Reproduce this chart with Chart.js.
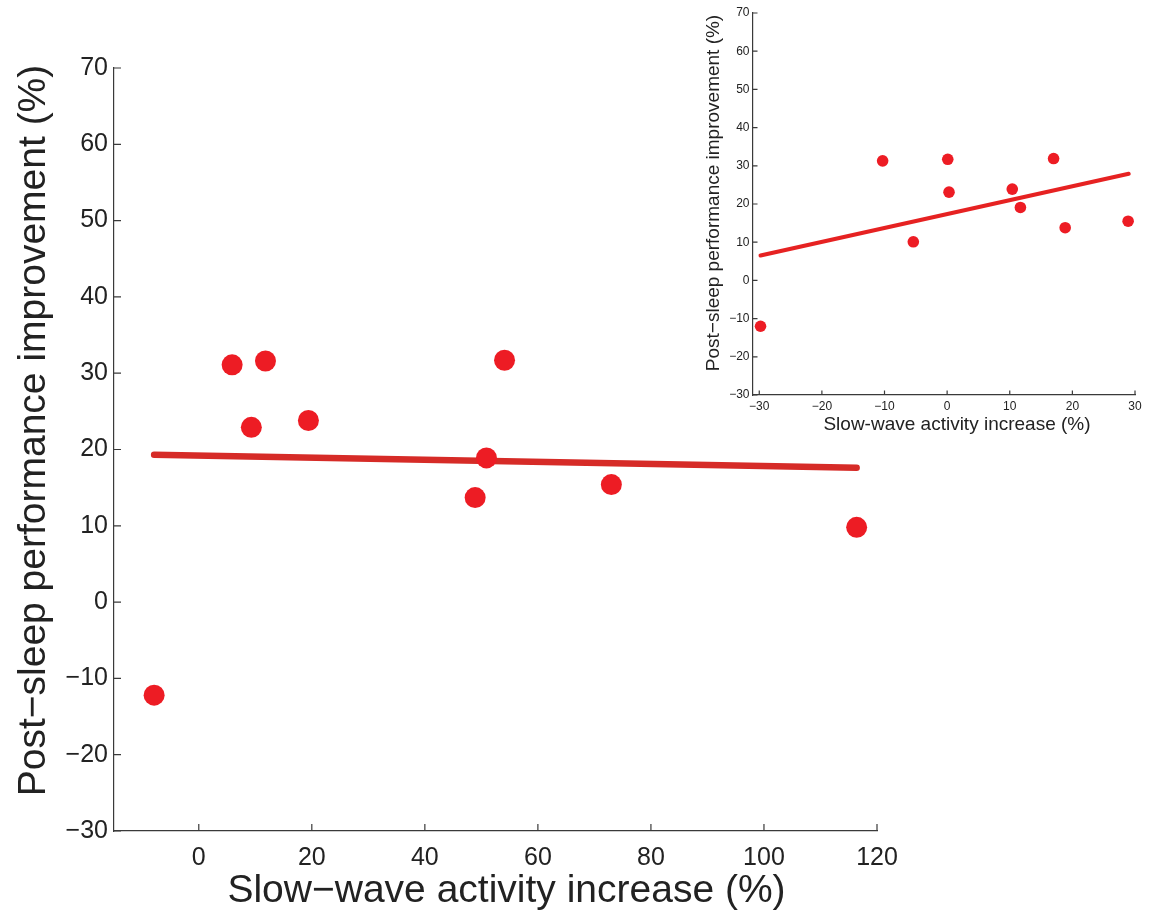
<!DOCTYPE html>
<html>
<head>
<meta charset="utf-8">
<script src="https://cdn.jsdelivr.net/npm/chart.js@4.4.1/dist/chart.umd.min.js"></script>
<style>
  html, body { margin: 0; padding: 0; background: #ffffff; }
  #wrap { position: relative; width: 1161px; height: 915px; overflow: hidden; background: #fff; }
  canvas { position: absolute; }
  #mainChart { left: 0; top: 0; }
  #insetChart { left: 690px; top: 0; }
</style>
</head>
<body>
<div id="wrap">
  <canvas id="mainChart" width="1161" height="915"></canvas>
  <canvas id="insetChart" width="471" height="440"></canvas>
</div>
<script>
// ---- Main panel data ----
const mainSwaIncrease = [-7.9, 5.9, 11.8, 9.3, 19.4, 54.1, 50.9, 48.9, 73.0, 116.4];
const mainImprovement = [-12.2, 31.1, 31.6, 22.9, 23.8, 31.7, 18.9, 13.7, 15.4, 9.8];
const mainFitX = [-7.9, 116.4];
const mainFitY = [19.3, 17.6];
const mainXTicks = [0, 20, 40, 60, 80, 100, 120];
const mainYTicks = [-30, -20, -10, 0, 10, 20, 30, 40, 50, 60, 70];

// ---- Inset panel data ----
const insetSwaIncrease = [-29.8, -10.3, -5.4, 0.1, 0.3, 10.4, 11.7, 17.0, 18.85, 28.9];
const insetImprovement = [-12.0, 31.3, 10.1, 31.7, 23.1, 23.9, 19.1, 31.9, 13.8, 15.5];
const insetFitX = [-29.8, 29.0];
const insetFitY = [6.5, 27.9];
const insetXTicks = [-30, -20, -10, 0, 10, 20, 30];
const insetYTicks = [-30, -20, -10, 0, 10, 20, 30, 40, 50, 60, 70];

const FONT = "'Liberation Sans', Arial, Helvetica, sans-serif";
const minus = v => String(v).replace('-', '\u2212');
const toPts = (xs, ys) => xs.map((x, i) => ({x: x, y: ys[i]}));

// Inward tick marks (MATLAB style), positioned by the chart's own scales
const inwardTicks = {
  id: 'inwardTicks',
  afterDraw(chart, args, opts) {
    const ctx = chart.ctx;
    const xs = chart.scales.x, ys = chart.scales.y;
    const len = opts.length || 6;
    ctx.save();
    ctx.strokeStyle = opts.color || '#3a3a3a';
    ctx.lineWidth = opts.width || 1.2;
    ctx.beginPath();
    xs.ticks.forEach(t => {
      const px = xs.getPixelForValue(t.value);
      ctx.moveTo(px, ys.bottom);
      ctx.lineTo(px, ys.bottom - len);
    });
    ys.ticks.forEach(t => {
      const py = ys.getPixelForValue(t.value);
      ctx.moveTo(xs.left, py);
      ctx.lineTo(xs.left + len, py);
    });
    ctx.stroke();
    ctx.restore();
  }
};

// Axis titles placed relative to the chart area
const axisTitles = {
  id: 'axisTitles',
  afterDraw(chart, args, o) {
    const ctx = chart.ctx, ca = chart.chartArea;
    ctx.save();
    ctx.fillStyle = '#222';
    ctx.font = o.size + 'px ' + FONT;
    ctx.textAlign = 'center';
    ctx.textBaseline = 'middle';
    ctx.fillText(o.xText, (ca.left + ca.right) / 2 + o.xDx, ca.bottom + o.xDy);
    ctx.translate(ca.left - o.yDx, (ca.top + ca.bottom) / 2 + o.yDy);
    ctx.rotate(-Math.PI / 2);
    ctx.fillText(o.yText, 0, 0);
    ctx.restore();
  }
};

function buildChart(canvasId, cfg) {
  return new Chart(document.getElementById(canvasId), {
    type: 'scatter',
    data: {
      datasets: [
        {
          type: 'scatter',
          data: toPts(cfg.xs, cfg.ys),
          backgroundColor: '#ed1c24',
          borderColor: '#ed1c24',
          borderWidth: 0,
          pointRadius: cfg.pointRadius,
          pointHoverRadius: cfg.pointRadius,
          order: 0
        },
        {
          type: 'line',
          data: toPts(cfg.fitX, cfg.fitY),
          borderColor: cfg.lineColor,
          borderWidth: cfg.lineWidth,
          borderCapStyle: 'round',
          pointRadius: 0,
          fill: false,
          order: 1
        }
      ]
    },
    options: {
      responsive: false,
      animation: false,
      devicePixelRatio: 1,
      layout: { padding: cfg.padding },
      plugins: {
        legend: { display: false },
        tooltip: { enabled: false },
        inwardTicks: { length: cfg.tickLen, color: '#3a3a3a', width: 1.2 },
        axisTitles: cfg.titles
      },
      scales: {
        x: {
          type: 'linear',
          min: cfg.xMin, max: cfg.xMax,
          afterBuildTicks: s => { s.ticks = cfg.xTicks.map(v => ({value: v})); },
          afterFit: s => { s.height = cfg.xHeight; },
          grid: { display: false, drawTicks: false },
          border: { display: true, color: '#3a3a3a', width: 1.2 },
          ticks: {
            color: '#222', padding: cfg.xTickPad,
            font: { family: FONT, size: cfg.tickSize },
            maxRotation: 0, autoSkip: false,
            callback: v => minus(v)
          },
          title: { display: false }
        },
        y: {
          type: 'linear',
          min: cfg.yMin, max: cfg.yMax,
          afterBuildTicks: s => { s.ticks = cfg.yTicks.map(v => ({value: v})); },
          afterFit: s => { s.width = cfg.yWidth; },
          grid: { display: false, drawTicks: false },
          border: { display: true, color: '#3a3a3a', width: 1.2 },
          ticks: {
            color: '#222', padding: cfg.yTickPad,
            font: { family: FONT, size: cfg.tickSize },
            autoSkip: false,
            callback: v => minus(v)
          },
          title: { display: false }
        }
      }
    },
    plugins: [inwardTicks, axisTitles]
  });
}

buildChart('mainChart', {
  xs: mainSwaIncrease, ys: mainImprovement,
  fitX: mainFitX, fitY: mainFitY,
  xTicks: mainXTicks, yTicks: mainYTicks,
  xMin: -15, xMax: 120, yMin: -30, yMax: 70,
  pointRadius: 10.5, lineWidth: 6.5, lineColor: '#d62b27',
  padding: { left: 0, top: 68, right: 284, bottom: 0 },
  xHeight: 84, yWidth: 114,
  tickSize: 25, tickLen: 7,
  xTickPad: 12, yTickPad: 6,
  titles: {
    size: 39,
    xText: 'Slow\u2212wave activity increase (%)', xDx: 11, xDy: 60,
    yText: 'Post\u2212sleep performance improvement (%)', yDx: 80, yDy: -19
  }
});

buildChart('insetChart', {
  xs: insetSwaIncrease, ys: insetImprovement,
  fitX: insetFitX, fitY: insetFitY,
  xTicks: insetXTicks, yTicks: insetYTicks,
  xMin: -31, xMax: 30, yMin: -30, yMax: 70,
  pointRadius: 5.8, lineWidth: 4, lineColor: '#e62222',
  padding: { left: 0, top: 13, right: 26, bottom: 0 },
  xHeight: 45, yWidth: 63,
  tickSize: 12, tickLen: 4.5,
  xTickPad: 4, yTickPad: 3.5,
  titles: {
    size: 19,
    xText: 'Slow-wave activity increase (%)', xDx: 13, xDy: 30,
    yText: 'Post\u2212sleep performance improvement (%)', yDx: 39, yDy: -11
  }
});
</script>
</body>
</html>
